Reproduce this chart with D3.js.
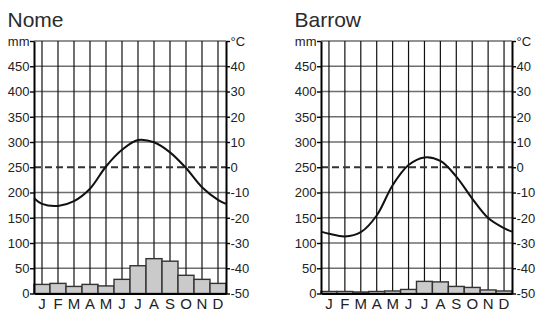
<!DOCTYPE html>
<html>
<head>
<meta charset="utf-8">
<script src="https://cdn.jsdelivr.net/npm/d3@7"></script>
<style>
  html, body { margin: 0; padding: 0; background: #fff; }
  svg { display: block; font-family: "Liberation Sans", Arial, sans-serif; }
</style>
</head>
<body>
<svg id="chart" width="546" height="323"></svg>
<script>
// Month initials along the bottom
const months = ["J", "F", "M", "A", "M", "J", "J", "A", "S", "O", "N", "D"];

// Nome: monthly precipitation (mm) and mean temperature (°C)
const nomePrecip = [18, 20, 14, 18, 15, 28, 55, 69, 64, 36, 28, 20];
const nomeTemp = [-14.5, -15.3, -13.4, -8.5, 0.3, 6.9, 10.8, 9.9, 5.9, -0.3, -7.9, -12.9];
const nomeTempEnds = [-12.3, -14.5]; // start of January, end of December

// Barrow: monthly precipitation (mm) and mean temperature (°C)
const barrowPrecip = [4, 4, 3, 4, 5, 8, 24, 23, 14, 12, 7, 5];
const barrowTemp = [-26.3, -27.4, -25.7, -19.1, -7.1, 0.9, 3.9, 2.5, -3.7, -12.4, -20.1, -24.1];
const barrowTempEnds = [-25.5, -25.5];

// Axis ticks
const mmTicks = [0, 50, 100, 150, 200, 250, 300, 350, 400, 450, 500];
const tempTicks = [-50, -40, -30, -20, -10, 0, 10, 20, 30, 40, 50];

const svg = d3.select("#chart");

function climogram(cfg) {
  const { title, precip, temp, ends, x0, x1 } = cfg;
  const yTop = 41, yBot = 293.5;

  const x = d3.scaleBand().domain(d3.range(12)).range([x0, x1]).padding(0);
  const xm = d3.scaleLinear().domain([0, 12]).range([x0, x1]);
  const y = d3.scaleLinear().domain([0, 500]).range([yBot, yTop]);
  const yt = d3.scaleLinear().domain([-50, 50]).range([yBot, yTop]);

  const g = svg.append("g");

  // Title
  g.append("text")
    .attr("x", x0 - 26.5)
    .attr("y", 26.7)
    .attr("font-size", 21)
    .attr("fill", "#2b2b2b")
    .text(title);

  // Horizontal grid
  g.append("g").selectAll("line")
    .data(mmTicks.filter(d => d > 0 && d !== 250))
    .join("line")
    .attr("x1", x0).attr("x2", x1)
    .attr("y1", d => y(d)).attr("y2", d => y(d))
    .attr("stroke", "#6e6e6e")
    .attr("stroke-width", 1.6);

  // Vertical grid at mid-month
  g.append("g").selectAll("line")
    .data(d3.range(12))
    .join("line")
    .attr("x1", d => x(d) + x.bandwidth() / 2)
    .attr("x2", d => x(d) + x.bandwidth() / 2)
    .attr("y1", y(500)).attr("y2", y(0))
    .attr("stroke", "#111")
    .attr("stroke-width", 1.2);

  // Freezing line
  g.append("line")
    .attr("x1", x0).attr("x2", x1)
    .attr("y1", yt(0)).attr("y2", yt(0))
    .attr("stroke", "#333")
    .attr("stroke-width", 2)
    .attr("stroke-dasharray", "7,4");

  // Precipitation bars
  g.append("g").selectAll("rect")
    .data(precip)
    .join("rect")
    .attr("x", (d, i) => x(i))
    .attr("width", x.bandwidth())
    .attr("y", d => y(d))
    .attr("height", d => y(0) - y(d))
    .attr("fill", "#cacaca")
    .attr("stroke", "#333")
    .attr("stroke-width", 1.4);

  // Left axis (mm)
  const left = g.append("g")
    .attr("transform", `translate(${x0},0)`)
    .call(d3.axisLeft(y).tickValues(mmTicks).tickSize(4).tickSizeOuter(0)
      .tickFormat(d => d === 500 ? "mm" : d));
  // Right axis (°C)
  const right = g.append("g")
    .attr("transform", `translate(${x1},0)`)
    .call(d3.axisRight(yt).tickValues(tempTicks).tickSize(4).tickSizeOuter(0)
      .tickFormat(d => d === 50 ? "°C" : d));
  // Bottom axis (months)
  const bottom = g.append("g")
    .attr("transform", `translate(0,${yBot})`)
    .call(d3.axisBottom(x).tickSize(0).tickSizeOuter(0).tickFormat(i => months[i]));

  [left, right, bottom].forEach(a => {
    a.select(".domain").attr("stroke", "#000").attr("stroke-width", 2);
    a.selectAll(".tick line").attr("stroke", "#000").attr("stroke-width", 1.4);
    a.selectAll("text").attr("fill", "#222").attr("font-family", "Liberation Sans, Arial, sans-serif");
  });
  left.attr("font-size", null).selectAll("text")
    .attr("font-size", 13).attr("x", -4.5).attr("dy", "0.33em");
  right.attr("font-size", null).selectAll("text")
    .attr("font-size", 13).attr("x", 4.5).attr("dy", "0.33em");
  bottom.attr("font-size", null).selectAll("text")
    .attr("font-size", 15).attr("y", 0).attr("dy", 15.2);

  // Temperature curve
  const pts = [[0, ends[0]]]
    .concat(temp.map((t, i) => [i + 0.5, t]))
    .concat([[12, ends[1]]]);
  g.append("path")
    .datum(pts)
    .attr("fill", "none")
    .attr("stroke", "#111")
    .attr("stroke-width", 2)
    .attr("d", d3.line().x(d => xm(d[0])).y(d => yt(d[1])).curve(d3.curveCatmullRom.alpha(0.5)));
}

climogram({ title: "Nome", precip: nomePrecip, temp: nomeTemp, ends: nomeTempEnds, x0: 34, x1: 226 });
climogram({ title: "Barrow", precip: barrowPrecip, temp: barrowTemp, ends: barrowTempEnds, x0: 321, x1: 512 });
</script>
</body>
</html>
